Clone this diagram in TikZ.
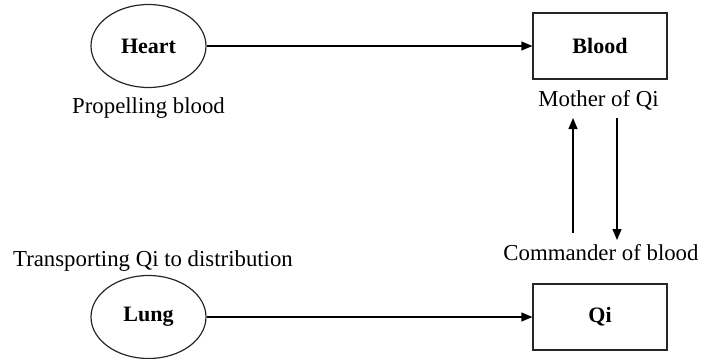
\documentclass[tikz,border=0pt]{standalone}
\usepackage{fontspec}
\setmainfont{Liberation Serif}
\usetikzlibrary{arrows.meta,shapes.geometric}
\begin{document}
\begin{tikzpicture}[x=1pt,y=-1pt,
  organ/.style={draw=black!85, ellipse, minimum width=115pt, minimum height=83pt,
    inner sep=0pt, line width=1.2pt, font=\fontsize{22}{26}\selectfont\bfseries},
  substance/.style={draw=black!85, rectangle, minimum width=134pt, minimum height=66pt,
    inner sep=0pt, line width=1.2pt, font=\fontsize{22}{26}\selectfont\bfseries},
  caption/.style={font=\fontsize{22.8}{27}\selectfont, inner sep=0pt, anchor=base},
  flow/.style={line width=1.2pt, -{Triangle[length=11pt,width=9pt]}}]
\useasboundingbox (0,0) rectangle (702,359);

% organs and what they govern
\node[organ] (heart) at (148.5,46) {Heart};
\node[substance] (blood) at (600,46) {Blood};
\node[organ] (lung) at (148.5,317) {Lung};
\node[substance] (qi) at (600,317) {Qi};

% functions
\node[caption] (propel) at (148.5,113) {Propelling blood};
\node[caption] (mother) at (598.5,106) {Mother of Qi};
\node[caption] (commander) at (601,260) {Commander of blood};
\node[caption] (transport) at (153,266) {Transporting Qi to distribution};

% ends of the mutual blood--Qi arrows
\coordinate (upstart) at (573,233);
\coordinate (upend) at (573,118);
\coordinate (downstart) at (617,118);
\coordinate (downend) at (617,240);

\draw[flow] (heart) -- (blood);
\draw[flow] (lung) -- (qi);
\draw[flow] (upstart) -- (upend);
\draw[flow] (downstart) -- (downend);
\end{tikzpicture}
\end{document}
